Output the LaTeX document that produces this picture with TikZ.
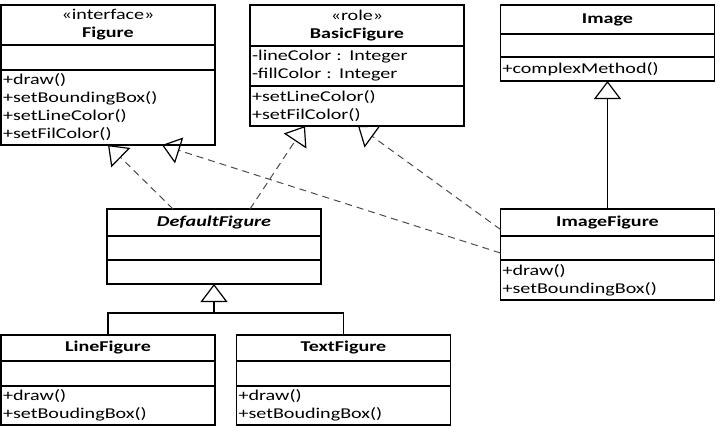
\documentclass[tikz,border=0pt]{standalone}
\usepackage{fontspec}
\setmainfont[FakeStretch=1.34]{Carlito}
\usetikzlibrary{
    positioning,    % relative placement of the compartments
    arrows.meta     % open triangle tips
}
\tikzset{
    uml box/.style={draw, line width=1.2pt, text width=210pt,
        inner xsep=2pt, inner ysep=0pt, outer sep=0pt,
        font=\fontsize{15}{18}\selectfont},
    class name/.style={uml box, align=center, anchor=north west},
    class part/.style={uml box, align=left, below=0pt of #1},
    inherit/.style={line width=1.2pt,
        -{Triangle[open, length=18pt, width=27pt, color=black, line width=1.2pt]}},
    realize/.style={inherit, black!70, line width=1pt,
        dash pattern=on 7pt off 5pt}
}

\begin{document}
\begin{tikzpicture}[x=1pt, y=1pt]
        \useasboundingbox (0,0) rectangle (723,-432);

        % class Figure
        \node[class name, minimum height=40pt] (fig-h) at (1,-5)
            {«interface»\\\textbf{Figure}};
        \node[class part=fig-h, minimum height=25pt] (fig-a) {};
        \node[class part=fig-a, minimum height=75pt] (fig-m)
            {+draw()\\+setBoundingBox()\\+setLineColor()\\+setFilColor()};

        % class BasicFigure
        \node[class name, minimum height=41pt] (bf-h) at (250,-5)
            {«role»\\\textbf{BasicFigure}};
        \node[class part=bf-h, minimum height=40pt] (bf-a)
            {-lineColor : Integer\\-fillColor : Integer};
        \node[class part=bf-a, minimum height=40pt] (bf-m)
            {+setLineColor()\\+setFilColor()};

        % class Image
        \node[class name, minimum height=29pt] (img-h) at (500.5,-5)
            {\textbf{Image}};
        \node[class part=img-h, minimum height=23pt] (img-a) {};
        \node[class part=img-a, minimum height=24pt] (img-m)
            {+complexMethod()};

        % class DefaultFigure
        \node[class name, minimum height=27pt] (df-h) at (107,-209)
            {\textbf{\textit{DefaultFigure}}};
        \node[class part=df-h, minimum height=24pt] (df-a) {};
        \node[class part=df-a, minimum height=24pt] (df-m) {};

        % class ImageFigure
        \node[class name, minimum height=27pt] (if-h) at (500.5,-209)
            {\textbf{ImageFigure}};
        \node[class part=if-h, minimum height=24pt] (if-a) {};
        \node[class part=if-a, minimum height=40pt] (if-m)
            {+draw()\\+setBoundingBox()};

        % class LineFigure
        \node[class name, minimum height=26pt] (lf-h) at (1,-335)
            {\textbf{LineFigure}};
        \node[class part=lf-h, minimum height=25pt] (lf-a) {};
        \node[class part=lf-a, minimum height=39pt] (lf-m)
            {+draw()\\+setBoudingBox()};

        % class TextFigure
        \node[class name, minimum height=26pt] (tf-h) at (236.5,-335)
            {\textbf{TextFigure}};
        \node[class part=tf-h, minimum height=25pt] (tf-a) {};
        \node[class part=tf-a, minimum height=39pt] (tf-m)
            {+draw()\\+setBoudingBox()};

        % generalization
        \coordinate[below=29pt of df-m.south] (split);
        \draw[line width=1.2pt] (lf-h.north) |- (split) -| (tf-h.north);
        \draw[inherit] (split) -- (df-m.south);
        \draw[inherit] (if-h.north) -- (img-m.south);

        % realization
        \draw[realize] ([xshift=-41pt]df-h.north) -- (fig-m.south);
        \draw[realize] ([xshift=36pt]df-h.north) -- ([xshift=-52pt]bf-m.south);
        \draw[realize] ([yshift=-5pt]if-a.west) -- ([xshift=54pt]fig-m.south);
        \draw[realize] ([yshift=-7pt]if-h.west) -- ([xshift=1pt]bf-m.south);
    \end{tikzpicture}
\end{document}
